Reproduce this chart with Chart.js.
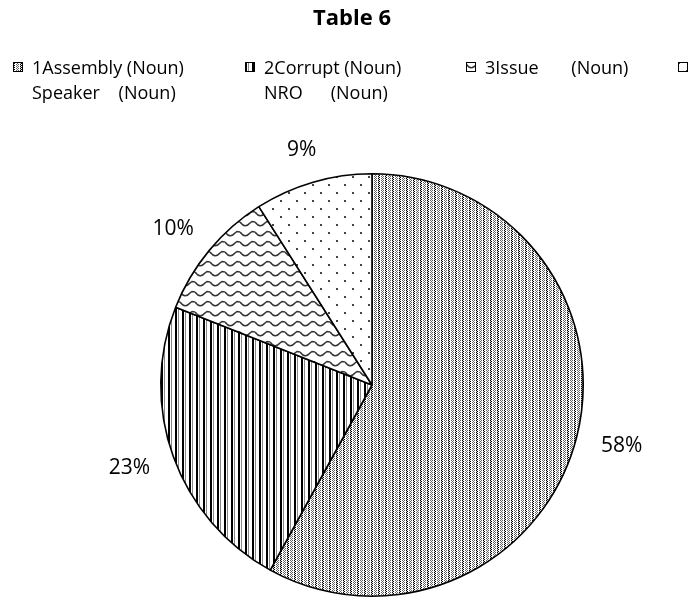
<!DOCTYPE html>
<html>
<head>
<meta charset="utf-8">
<script src="https://cdn.jsdelivr.net/npm/chart.js@4.4.0/dist/chart.umd.min.js"></script>
<style>
  html, body { margin: 0; padding: 0; background: #fff; }
  #wrap { position: relative; width: 696px; height: 600px; overflow: hidden; font-family: 'Open Sans', sans-serif; color: #000; }
  #chart { position: absolute; left: 0; top: 0; }
  #title { position: absolute; left: 252px; width: 200px; top: 1px; text-align: center; font-weight: bold; font-size: 22px; }
  .item { position: absolute; top: 55px; font-size: 18px; line-height: 25px; white-space: pre; }
  .item canvas { position: absolute; left: 0; top: 7px; }
  .item span { position: absolute; left: 19px; top: 0; }
</style>
</head>
<body>
<div id="wrap">
  <canvas id="chart" width="696" height="600"></canvas>
  <div id="title"></div>
  <div id="legend"></div>
</div>
<script>
const title = 'Table 6';
const categories = [
  '1Assembly (Noun)\nSpeaker    (Noun)',
  '2Corrupt (Noun)\nNRO      (Noun)',
  '3Issue       (Noun)',
  ''
];
const shares = [58, 23, 10, 9];

// legend item left edges (layout only)
const legendX = [13, 245, 466, 678];

function tile(w, h, draw) {
  const c = document.createElement('canvas');
  c.width = w; c.height = h;
  const g = c.getContext('2d');
  g.fillStyle = '#fff';
  g.fillRect(0, 0, w, h);
  draw(g);
  return c;
}

function dots(g, color, pts, s) {
  g.fillStyle = color;
  pts.forEach(p => g.fillRect(p[0], p[1], s || 1, s || 1));
}

const tiles = [
  // fine grey dotted grid
  tile(7, 4, g => {
    dots(g, '#000', [[0,0],[0,2],[1,1],[1,3]]);
    dots(g, '#bbb', [[0,1],[0,3]]);
    dots(g, '#666', [[3,0],[3,2],[4,1],[4,3],[5,0],[5,2]]);
  }),
  // vertical stripes
  tile(7, 1, g => {
    dots(g, '#000', [[0,0],[1,0]]);
    dots(g, '#888', [[3,0]]);
  }),
  // waves
  tile(15, 10, g => {
    g.strokeStyle = '#333';
    g.lineWidth = 1.5;
    g.beginPath();
    g.moveTo(0, 2);
    g.quadraticCurveTo(5, 9, 10, 3);
    g.lineTo(12, 1.5);
    g.lineTo(15, 2);
    g.stroke();
  }),
  // sparse dots
  tile(16, 16, g => {
    dots(g, '#444', [[0,0],[8,8]], 2);
  })
];

const ctx = document.getElementById('chart').getContext('2d');
const fills = tiles.map(t => ctx.createPattern(t, 'repeat'));

document.getElementById('title').textContent = title;

const legendEl = document.getElementById('legend');
categories.forEach((name, i) => {
  const item = document.createElement('div');
  item.className = 'item';
  item.style.left = legendX[i] + 'px';
  const sw = document.createElement('canvas');
  sw.width = 10; sw.height = 10;
  const s = sw.getContext('2d');
  s.fillStyle = s.createPattern(tiles[i], 'repeat');
  s.fillRect(0, 0, 10, 10);
  s.strokeStyle = '#000';
  s.lineWidth = 1;
  s.strokeRect(0.5, 0.5, 9, 9);
  const txt = document.createElement('span');
  txt.textContent = name;
  item.appendChild(sw);
  item.appendChild(txt);
  legendEl.appendChild(item);
});

const outsideLabels = {
  id: 'outsideLabels',
  afterDatasetsDraw(chart) {
    const c = chart.ctx;
    const meta = chart.getDatasetMeta(0);
    c.save();
    c.font = '21px "Open Sans"';
    c.fillStyle = '#000';
    c.textAlign = 'center';
    c.textBaseline = 'middle';
    meta.data.forEach((arc, i) => {
      const p = arc.getProps(['x', 'y', 'startAngle', 'endAngle', 'outerRadius'], true);
      const mid = (p.startAngle + p.endAngle) / 2;
      const ux = Math.cos(mid), uy = Math.sin(mid);
      const text = shares[i] + '%';
      const w = c.measureText(text).width, h = 15;
      const d = p.outerRadius + 26;
      c.fillText(text, p.x + ux * d + ux * w / 2, p.y + uy * d + uy * h / 2);
    });
    c.restore();
  }
};

new Chart(ctx, {
  type: 'pie',
  data: {
    labels: categories,
    datasets: [{
      data: shares,
      backgroundColor: fills,
      borderColor: '#000',
      borderWidth: 1.6
    }]
  },
  options: {
    responsive: false,
    animation: false,
    layout: { padding: { top: 173, bottom: 3, left: 160, right: 112 } },
    plugins: {
      legend: { display: false },
      tooltip: { enabled: false }
    }
  },
  plugins: [outsideLabels]
});
</script>
</body>
</html>
